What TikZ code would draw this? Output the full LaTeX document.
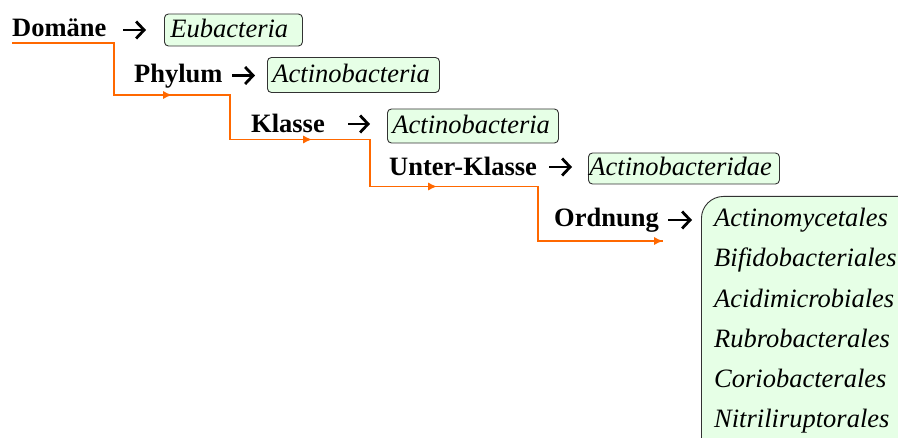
\documentclass[tikz,border=0pt]{standalone}
\usepackage{fontspec}
\setmainfont{Liberation Serif}
\usetikzlibrary{arrows.meta,calc}
\definecolor{oline}{RGB}{255,104,0}
\definecolor{boxfill}{RGB}{230,255,230}
\definecolor{boxline}{RGB}{50,50,50}
\begin{document}
\begin{tikzpicture}[x=1pt,y=-1pt,
  rank/.style={font=\fontsize{26.5}{30}\selectfont\bfseries, anchor=base west, inner sep=0pt},
  rankarrow/.style={draw=black, line width=2.8pt, -{Straight Barb[length=8pt,width=17pt,line width=2.8pt]}},
  taxbox/.style={font=\fontsize{26.5}{30}\selectfont\itshape, anchor=west, draw=boxline, fill=boxfill,
    line width=0.9pt, rounded corners=4pt, inner xsep=0pt, inner ysep=0pt, align=left,
    text height=20pt, text depth=5pt},
  bigbox/.style={draw=boxline, fill=boxfill, line width=0.9pt, rounded corners=22pt,
    anchor=north west, inner sep=0pt},
  item/.style={font=\fontsize{26.5}{30}\selectfont\itshape, anchor=base west, inner sep=0pt},
  path/.style={draw=oline, line width=1.8pt},
  midtip/.style={draw=oline, line width=1.8pt, -{Latex[length=9pt,width=8.5pt]}}]
\useasboundingbox (0,0) rectangle (898,438);
\clip (0,0) rectangle (898,438);

% ranks
\node[rank] (dom) at (12,37) {Domäne};
\node[rank] (phy) at (134,83) {Phylum};
\node[rank] (kla) at (251,133) {Klasse};
\node[rank] (unt) at (389,176) {Unter-Klasse};
\node[rank] (ord) at (554,227) {Ordnung};

% taxon boxes
\node[taxbox, minimum width=138pt, text width=138pt, minimum height=32pt] (b1) at (164,30)
  {\hspace*{6pt}Eubacteria};
\node[taxbox, minimum width=172pt, text width=172pt, minimum height=35pt] (b2) at (267,75)
  {\hspace*{5pt}Actinobacteria};
\node[taxbox, minimum width=171pt, text width=171pt, minimum height=34pt] (b3) at (387,126)
  {\hspace*{5pt}Actinobacteria};
\node[taxbox, minimum width=191pt, text width=191pt, minimum height=31pt] (b4) at (588,168.5)
  {\hspace*{1pt}Actinobacteridae};

\node[bigbox, minimum width=230pt, minimum height=270pt] (b5) at (701,196) {};
\node[item] (o1) at (714,227) {Actinomycetales};
\node[item] (o2) at (714,267) {Bifidobacteriales};
\node[item] (o3) at (714,307.5) {Acidimicrobiales};
\node[item] (o4) at (714,348) {Rubrobacterales};
\node[item] (o5) at (714,388) {Coriobacterales};
\node[item] (o6) at (714,428) {Nitriliruptorales};

% rank arrows (label -> box)
\draw[rankarrow] ($(b1.west)+(-41,0)$) -- ($(b1.west)+(-18,0)$);
\draw[rankarrow] ($(b2.west)+(-35,0.5)$) -- ($(b2.west)+(-12,0.5)$);
\draw[rankarrow] ($(b3.west)+(-39,-2)$) -- ($(b3.west)+(-17,-2)$);
\draw[rankarrow] ($(b4.west)+(-39,-1.5)$) -- ($(b4.west)+(-16,-1.5)$);
\draw[rankarrow] ($(b5.north west)+(-33,24)$) -- ($(b5.north west)+(-9,24)$);

% orange staircase
\coordinate (p0) at ($(dom.base west)+(0,6)$);
\coordinate (p1) at (114,43);
\coordinate (p2) at (114,95);
\coordinate (p3) at (230,95);
\coordinate (p4) at (230,139.5);
\coordinate (p5) at (370,139.5);
\coordinate (p6) at (370,186.5);
\coordinate (p7) at (538,186.5);
\coordinate (p8) at (538,241);
\coordinate (pe) at (663,241);
\draw[path, line join=miter] (p0) -- (p1) -- (p2) -- (p3) -- (p4) -- (p5) -- (p6) -- (p7) -- (p8) -- (pe);
\draw[midtip] (p8) -- (pe);
\draw[midtip] (p2) -- (172,95);
\draw[midtip] (p4) -- (312,139.5);
\draw[midtip] (p6) -- (437,186.5);
\end{tikzpicture}
\end{document}
